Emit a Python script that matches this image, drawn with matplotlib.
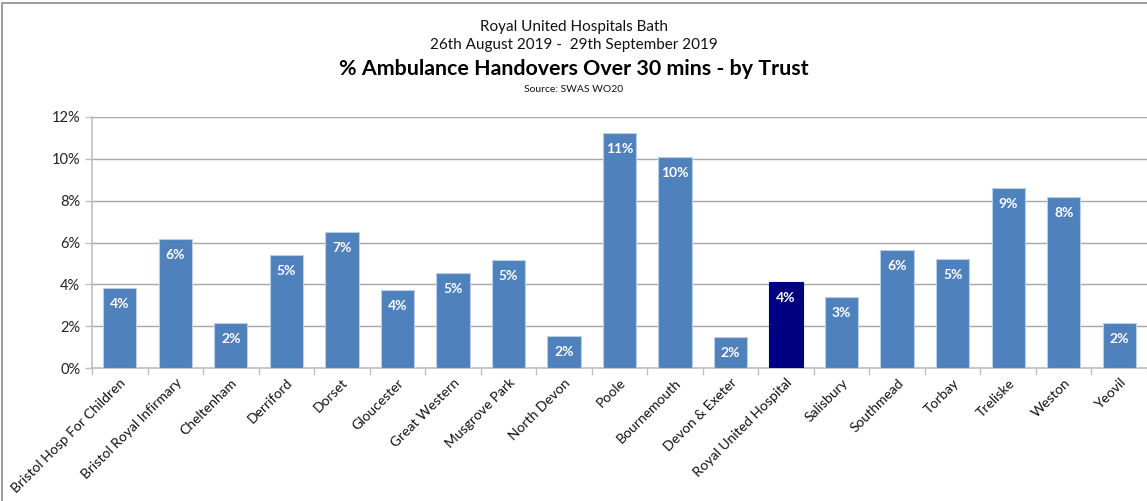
import matplotlib
matplotlib.use("Agg")
import matplotlib.pyplot as plt
from matplotlib.patches import Rectangle
from matplotlib.ticker import FuncFormatter, FixedLocator, MultipleLocator

trusts = ["Bristol Hosp For Children", "Bristol Royal Infirmary", "Cheltenham", "Derriford",
          "Dorset", "Gloucester", "Great Western", "Musgrove Park", "North Devon", "Poole",
          "Bournemouth", "Devon & Exeter", "Royal United Hospital", "Salisbury", "Southmead",
          "Torbay", "Treliske", "Weston", "Yeovil"]
pct_over_30 = [3.81, 6.17, 2.14, 5.40, 6.52, 3.75, 4.53, 5.16, 1.56, 11.24,
               10.06, 1.51, 4.11, 3.38, 5.66, 5.20, 8.62, 8.18, 2.17]
highlight = "Royal United Hospital"

FONT = ["Lato", "DejaVu Sans"]
plt.rcParams['font.family'] = FONT

W, H = 1147, 501
fig = plt.figure(figsize=(W / 100, H / 100), dpi=100)
ax = fig.add_axes([92 / W, 1 - 368.3 / H, (W - 92) / W, (368.3 - 116.7) / H])

x = list(range(len(trusts)))
colors = ["#000080" if t == highlight else "#4F81BD" for t in trusts]
edges = ["#000080" if t == highlight else "#B9CDE5" for t in trusts]
bars = ax.bar(x, pct_over_30, width=0.6, color=colors, edgecolor=edges, linewidth=0.8, zorder=3)

for xi, v in zip(x, pct_over_30):
    ax.annotate(f"{int(v + 0.5)}%", (xi, v), xytext=(0, -11.5), textcoords="offset points",
                ha="center", va="center", color="white", fontsize=10, fontweight="bold", zorder=4)

ax.set_xlim(-0.5, len(trusts) - 0.5)
ax.set_ylim(0, 12)
ax.yaxis.set_major_locator(MultipleLocator(2))
ax.yaxis.set_major_formatter(FuncFormatter(lambda v, p: f"{v:.0f}%"))
ax.grid(axis="y", color="#A6A6A6", linewidth=1.0, zorder=0)
ax.set_axisbelow(True)

for s in ["top", "right"]:
    ax.spines[s].set_visible(False)
ax.spines["left"].set_color("#BFBFBF")
ax.spines["bottom"].set_color("#BFBFBF")
ax.spines["left"].set_linewidth(1.2)
ax.spines["bottom"].set_linewidth(1.2)

ax.tick_params(axis="y", colors="#BFBFBF", labelcolor="#222222", labelsize=10.5, length=5, width=1)
ax.set_xticks(x)
ax.set_xticklabels(trusts, rotation=45, ha="right", rotation_mode="anchor", fontsize=10, color="#111111")
ax.tick_params(axis="x", length=0, pad=6)
ax.xaxis.set_minor_locator(FixedLocator([i + 0.5 for i in range(-1, len(trusts))]))
ax.tick_params(axis="x", which="minor", length=5, width=1, color="#BFBFBF")

# titles
fig.text(0.5, 1 - 27 / H, "Royal United Hospitals Bath", ha="center", va="center", fontsize=11, color="#111111")
fig.text(0.5, 1 - 45 / H, "26th August 2019 -  29th September 2019", ha="center", va="center", fontsize=11, color="#111111")
fig.text(0.5, 1 - 69 / H, "% Ambulance Handovers Over 30 mins - by Trust", ha="center", va="center",
         fontsize=15.4, fontweight="bold", color="#000000")
fig.text(0.5, 1 - 90 / H, "Source: SWAS WO20", ha="center", va="center", fontsize=7.5, color="#111111")

# outer frame
fig.patches.append(Rectangle((2 / W, -0.05), 1.2, 1 - 3 / H + 0.05, transform=fig.transFigure,
                             fill=False, edgecolor="#8C8C8C", linewidth=1.2))

fig.savefig("out.png", dpi=100)
